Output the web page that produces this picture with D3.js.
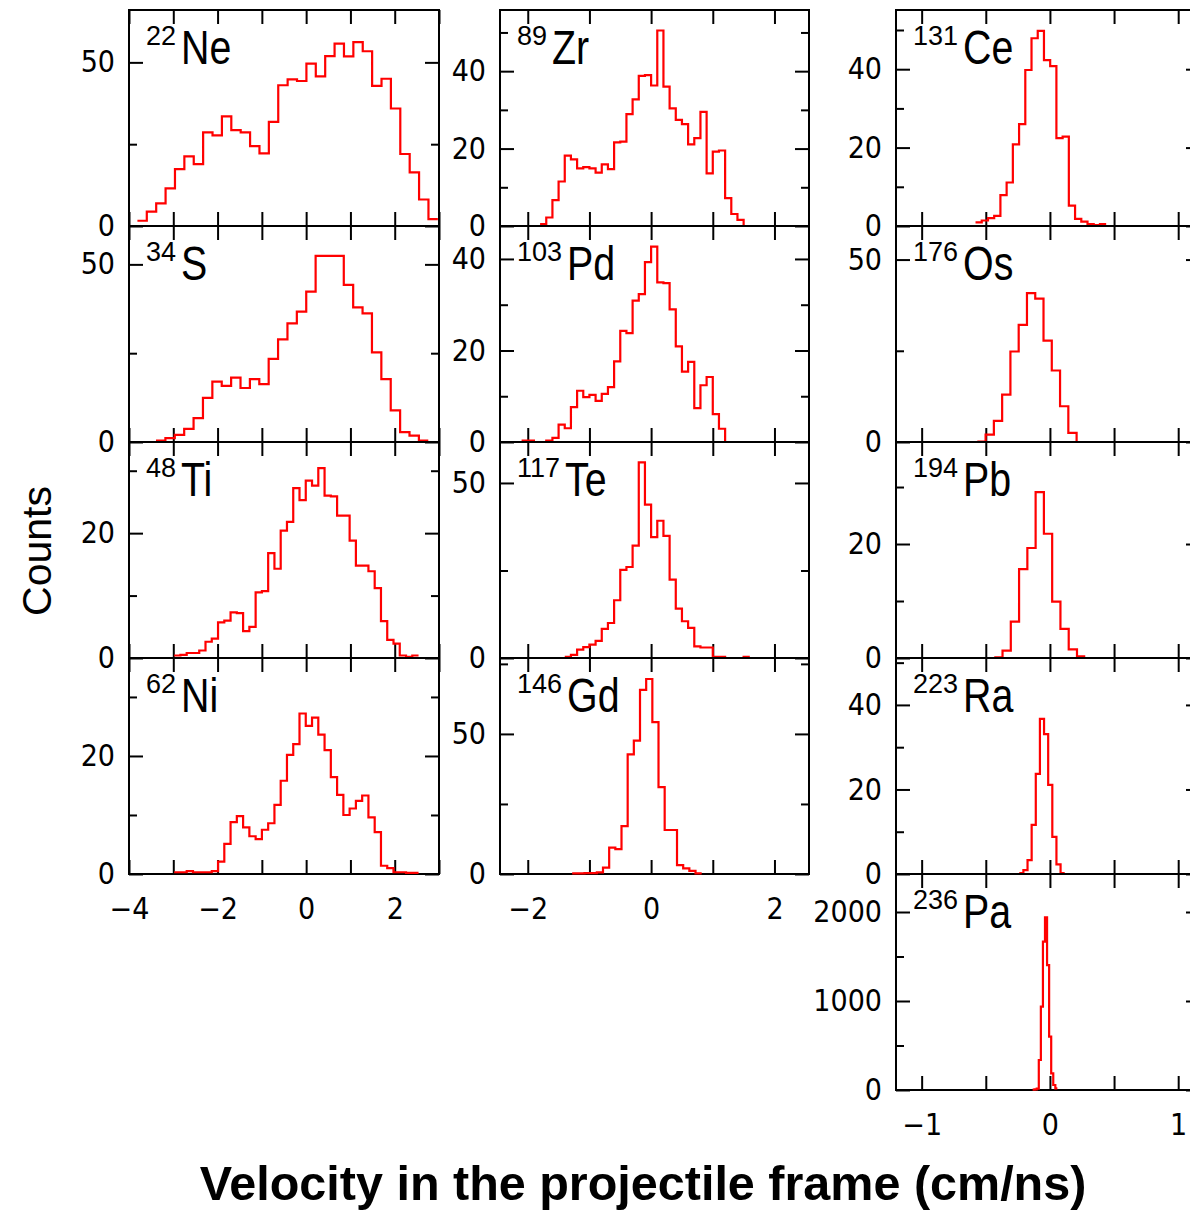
<!DOCTYPE html>
<html>
<head>
<meta charset="utf-8">
<script src="https://cdn.jsdelivr.net/npm/d3@7"></script>
<style>
  body { margin: 0; background: #fff; }
  svg { display: block; }
</style>
</head>
<body>
<div id="chart"></div>
<script>
// counts per bin (first bin edge and bin width given in the panel table)
const ne22 = [1.6, 4.4, 6.9, 11.5, 17.4, 21.3, 18.9, 28.6, 27.7, 33.5, 29.3, 28.6, 24.4, 22.2, 31.8, 43.0, 44.8, 44.3, 49.6, 45.7, 51.9, 55.7, 51.8, 56.2, 53.4, 42.8, 45.0, 35.9, 22.0, 16.4, 8.1, 2.1];
const s34 = [0.4, 1.1, 2.0, 3.7, 6.7, 12.4, 17.0, 15.8, 18.1, 15.2, 17.7, 16.3, 23.4, 28.9, 33.4, 36.7, 42.3, 52.4, 52.4, 52.4, 44.2, 37.9, 36.2, 25.2, 17.7, 8.9, 2.8, 1.8, 0.4];
const ti48 = [0.4, 0.5, 0.8, 0.8, 1.2, 2.6, 3.1, 5.7, 6.0, 7.3, 7.2, 4.3, 5.0, 10.5, 10.7, 16.8, 14.3, 20.4, 21.8, 27.2, 25.3, 28.4, 27.6, 30.4, 26.0, 25.9, 22.8, 22.8, 18.8, 14.8, 14.8, 13.9, 11.2, 5.9, 2.9, 2.3, 0.4, 0.2, 0.4];
const ni62 = [0.3, 0.3, 0.5, 0.3, 0.3, 0.3, 0.5, 2.1, 5.1, 8.8, 9.8, 7.9, 6.4, 5.9, 7.5, 8.6, 11.7, 15.8, 20.2, 22.0, 27.2, 25.1, 26.5, 23.6, 21.0, 16.4, 13.4, 10.0, 11.1, 12.4, 13.3, 9.6, 7.1, 1.4, 1.0, 0.3, 0.3, 0.2, 0.2];
const zr89 = [0.5, 2.2, 6.7, 11.5, 18.2, 17.2, 14.9, 15.2, 14.9, 13.8, 15.9, 14.7, 21.6, 21.8, 28.9, 32.7, 38.8, 39.0, 36.3, 50.5, 36.0, 30.4, 27.4, 26.3, 21.1, 22.7, 29.5, 13.6, 19.2, 19.5, 7.2, 3.1, 1.6, 0];
const pd103 = [0.3, 0.3, 0, 0, 0.3, 0.9, 3.8, 3.0, 7.6, 11.2, 9.8, 10.3, 9.0, 10.5, 12.0, 17.6, 24.3, 23.8, 30.9, 32.3, 39.3, 42.7, 34.9, 34.7, 29.0, 20.9, 15.4, 17.5, 7.4, 12.4, 14.2, 6.1, 2.9, 0];
const te117 = [0.3, 0.9, 2.4, 3.1, 3.8, 4.9, 8.3, 10.0, 16.5, 25.2, 26.0, 32.1, 55.9, 43.8, 34.5, 39.2, 34.9, 22.4, 14.1, 10.5, 8.6, 3.3, 3.0, 3.0, 0.3, 0.3, 0, 0, 0, 0.3];
const gd146 = [0.2, 0.2, 0.3, 0.3, 0.6, 2.3, 9.4, 8.9, 17.1, 42.7, 47.6, 65.7, 69.6, 54.2, 31.0, 15.7, 15.7, 3.2, 2.0, 1.1, 0.2];
const ce131 = [0.9, 1.4, 2.0, 2.6, 7.9, 11.1, 20.8, 26.0, 39.8, 47.9, 49.8, 42.3, 40.8, 22.4, 22.8, 5.2, 1.8, 1.1, 0.5, 0.2, 0.5];
const os176 = [0.1, 2.0, 5.8, 13.0, 24.8, 32.1, 40.8, 39.3, 27.8, 19.6, 9.8, 2.5, 0];
const pb194 = [0.1, 1.3, 6.4, 15.6, 19.3, 29.1, 21.8, 9.9, 5.1, 1.5, 0.3];
const ra223 = [0.2, 0.9, 3.3, 11.6, 23.7, 36.7, 33.1, 21.1, 8.8, 2.3, 0.2];
const pa236 = [5, 8, 15, 337, 936, 1667, 1940, 1404, 599, 187, 56, 19];

// x ticks per column
const col1Ticks = [-4, -3, -2, -1, 0, 1, 2, 3], col1Labels = [-4, -2, 0, 2];
const col2Ticks = [-2, -1, 0, 1, 2], col2Labels = [-2, 0, 2];
const col3Ticks = [-1, -0.5, 0, 0.5, 1], col3Labels = [-1, 0, 1];

// y ticks (labelled / unlabelled)
const y50 = [0, 50], y25 = [25], y25b = [25, 75];
const y20 = [0, 20], y1030 = [10, 30];
const y2040 = [0, 20, 40], y103050 = [10, 30, 50];
const y2000 = [0, 1000, 2000], y500 = [500, 1500];

const panels = [
  {mass: '22',  el: 'Ne', col: 0, row: 0, counts: ne22,  x0: -3.81, bw: 0.212,  yMax: 66,   major: y50,   minor: y25},
  {mass: '34',  el: 'S',  col: 0, row: 1, counts: s34,   x0: -3.39, bw: 0.212,  yMax: 60.8, major: y50,   minor: y25},
  {mass: '48',  el: 'Ti', col: 0, row: 2, counts: ti48,  x0: -2.98, bw: 0.1415, yMax: 34.6, major: y20,   minor: y1030},
  {mass: '62',  el: 'Ni', col: 0, row: 3, counts: ni62,  x0: -2.98, bw: 0.1415, yMax: 36.6, major: y20,   minor: y1030},
  {mass: '89',  el: 'Zr', col: 1, row: 0, counts: zr89,  x0: -1.8,  bw: 0.1,    yMax: 55.8, major: y2040, minor: y103050},
  {mass: '103', el: 'Pd', col: 1, row: 1, counts: pd103, x0: -2.1,  bw: 0.1,    yMax: 47.2, major: y2040, minor: y1030},
  {mass: '117', el: 'Te', col: 1, row: 2, counts: te117, x0: -1.4,  bw: 0.1,    yMax: 61.7, major: y50,   minor: y25},
  {mass: '146', el: 'Gd', col: 1, row: 3, counts: gd146, x0: -1.28, bw: 0.1,    yMax: 77.1, major: y50,   minor: y25b},
  {mass: '131', el: 'Ce', col: 2, row: 0, counts: ce131, x0: -0.58, bw: 0.0485, yMax: 55.1, major: y2040, minor: y103050},
  {mass: '176', el: 'Os', col: 2, row: 1, counts: os176, x0: -0.566, bw: 0.0645, yMax: 59.2, major: y50,  minor: y25},
  {mass: '194', el: 'Pb', col: 2, row: 2, counts: pb194, x0: -0.434, bw: 0.0645, yMax: 37.9, major: y20,  minor: y1030},
  {mass: '223', el: 'Ra', col: 2, row: 3, counts: ra223, x0: -0.239, bw: 0.0322, yMax: 51.1, major: y2040, minor: y103050},
  {mass: '236', el: 'Pa', col: 2, row: 4, counts: pa236, x0: -0.135, bw: 0.0161, yMax: 2427, major: y2000, minor: y500}
];

const cols = [
  {left: 129, right: 439, domain: [-4, 3],        ticks: col1Ticks, labels: col1Labels, lastRow: 3},
  {left: 500, right: 809, domain: [-2.45, 2.56],  ticks: col2Ticks, labels: col2Labels, lastRow: 3},
  {left: 896, right: 1200, domain: [-1.2, 1.17],  ticks: col3Ticks, labels: col3Labels, lastRow: 4}
];

const W = 1190, H = 1211;
const rowTop = 10, rowH = 216;
const tickFont = "'DejaVu Sans Condensed', 'DejaVu Sans', sans-serif";
const labelFont = "'Liberation Sans', Arial, sans-serif";

const svg = d3.select("#chart").append("svg")
    .attr("width", W)
    .attr("height", H);

function styleAxis(sel) {
    sel.select(".domain").remove();
    sel.selectAll(".tick line").attr("stroke", "#000").attr("stroke-width", 2);
    sel.selectAll(".tick text")
        .attr("fill", "#000")
        .style("font-family", tickFont)
        .style("font-stretch", "condensed")
        .style("font-size", "30px");
}

const fmt = d3.format("d");

panels.forEach(p => {
    const c = cols[p.col];
    const top = rowTop + p.row * rowH, bottom = top + rowH;
    const x = d3.scaleLinear().domain(c.domain).range([c.left, c.right]);
    const y = d3.scaleLinear().domain([0, p.yMax]).range([bottom, top]);
    const g = svg.append("g").attr("class", "panel");

    // x ticks, inward on top and bottom
    g.append("g").attr("transform", `translate(0,${bottom})`)
        .call(d3.axisBottom(x).tickValues(c.ticks).tickSize(-14).tickFormat(""))
        .call(styleAxis);
    g.append("g").attr("transform", `translate(0,${top})`)
        .call(d3.axisTop(x).tickValues(c.ticks).tickSize(-14).tickFormat(""))
        .call(styleAxis);

    // y ticks, left with labels, right without
    g.append("g").attr("transform", `translate(${c.left},0)`)
        .call(d3.axisLeft(y).tickValues(p.major).tickSize(-14).tickPadding(14).tickFormat(fmt))
        .call(styleAxis);
    g.append("g").attr("transform", `translate(${c.left},0)`)
        .call(d3.axisLeft(y).tickValues(p.minor).tickSize(-8).tickFormat(""))
        .call(styleAxis);
    g.append("g").attr("transform", `translate(${c.right},0)`)
        .call(d3.axisRight(y).tickValues(p.major).tickSize(-14).tickFormat(""))
        .call(styleAxis);
    g.append("g").attr("transform", `translate(${c.right},0)`)
        .call(d3.axisRight(y).tickValues(p.minor).tickSize(-8).tickFormat(""))
        .call(styleAxis);

    // x labels on the bottom panel of each column
    if (p.row === c.lastRow) {
        g.append("g").attr("transform", `translate(0,${bottom})`)
            .call(d3.axisBottom(x).tickValues(c.labels).tickSize(0).tickPadding(24).tickFormat(fmt))
            .call(styleAxis);
    }

    // frame
    g.append("rect")
        .attr("x", c.left).attr("y", top)
        .attr("width", c.right - c.left).attr("height", rowH)
        .attr("fill", "none").attr("stroke", "#000").attr("stroke-width", 2);

    // histogram as a step line
    const n = p.counts.length;
    const pts = p.counts.map((v, i) => [p.x0 + i * p.bw, v]);
    pts.push([p.x0 + n * p.bw, p.counts[n - 1]]);
    const step = d3.line()
        .curve(d3.curveStepAfter)
        .x(d => x(d[0]))
        .y(d => y(d[1]));
    g.append("path")
        .attr("d", step(pts))
        .attr("fill", "none")
        .attr("stroke", "#ff0000")
        .attr("stroke-width", 2.2);

    // isotope label
    const sup = g.append("text")
        .attr("x", c.left + 17)
        .attr("y", top + 35)
        .style("font-family", labelFont)
        .style("font-size", "27px")
        .text(p.mass);
    const supW = sup.node().getComputedTextLength();
    g.append("text")
        .attr("transform", `translate(${c.left + 17 + supW + 5},${top + 54}) scale(0.82,1)`)
        .style("font-family", labelFont)
        .style("font-size", "48px")
        .text(p.el);
});

// axis titles
svg.append("text")
    .attr("transform", "translate(51,551) rotate(-90)")
    .attr("text-anchor", "middle")
    .style("font-family", labelFont)
    .style("font-size", "41px")
    .text("Counts");

svg.append("text")
    .attr("x", 643)
    .attr("y", 1200)
    .attr("text-anchor", "middle")
    .style("font-family", labelFont)
    .style("font-weight", "bold")
    .style("font-size", "48.5px")
    .text("Velocity in the projectile frame (cm/ns)");
</script>
</body>
</html>
